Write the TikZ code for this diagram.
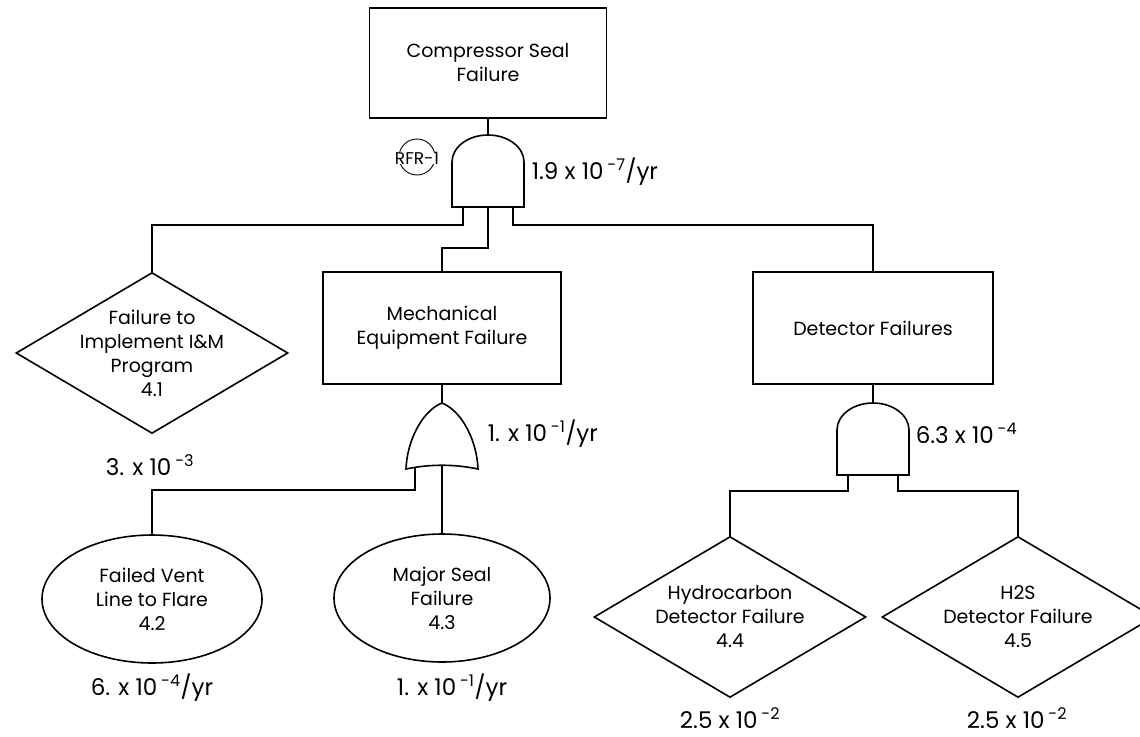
\documentclass[tikz,border=0pt]{standalone}
\usepackage{fontspec}
\setmainfont{Poppins}
\usetikzlibrary{shapes.geometric}

\newcommand{\expo}[1]{\textsuperscript{#1}}

\tikzset{
  every node/.style={font=\fontsize{19}{24}\selectfont},
  box/.style={draw, rectangle, minimum width=238pt, minimum height=112pt, align=center},
  event/.style={draw, diamond, aspect=1.7, inner xsep=-30pt, inner ysep=-30pt, minimum width=272pt, minimum height=161pt, align=center},
  basic/.style={draw, ellipse, inner sep=0pt, minimum width=216pt, minimum height=128pt, align=center},
  prob/.style={font=\fontsize{23}{26}\selectfont, inner sep=0pt},
  andgate/.pic={
    \draw (-36,72) -- (-36,27) arc[start angle=180, end angle=0, x radius=36pt, y radius=27pt] -- (36,72) -- cycle;
    \coordinate (-top) at (0,0);
    \coordinate (-l) at (-25,72);
    \coordinate (-m) at (0,72);
    \coordinate (-r) at (25,72);
  },
  orgate/.pic={
    \draw (0,0) .. controls (-20,8) and (-35,38) .. (-36,66) .. controls (-12,61) and (12,61) .. (36,66) .. controls (35,38) and (20,8) .. (0,0) -- cycle;
    \coordinate (-top) at (0,0);
    \coordinate (-l) at (-27,64);
    \coordinate (-m) at (0,62);
  }
}

\begin{document}
\begin{tikzpicture}[x=1pt, y=-1pt, line width=1.6pt]
  \useasboundingbox (0,0) rectangle (1140,736);

  % top event
  \node[box, minimum width=237pt, minimum height=110pt] (top) at (488,63) {Compressor Seal\\Failure};
  \pic (g1) at (488,135) {andgate};
  \draw[line width=0.9pt] (417,157) circle (18pt);
  \node[fill=white, inner sep=0pt, font=\fontsize{17}{18}\selectfont] (rfr) at (417,158) {RFR-1};
  \node[prob, anchor=west] (p1) at (531,172) {1.9 x 10\,\expo{-7}/yr};

  % second level
  \node[event] (d1) at (152,353) {Failure to\\Implement I\&M\\Program\\4.1};
  \node[box] (mech) at (442,328) {Mechanical\\Equipment Failure};
  \node[box, minimum width=240pt] (det) at (873,328) {Detector Failures};
  \node[prob] (p2) at (150,465) {3. x 10\,\expo{-3}};

  % gates under the boxes
  \pic (g2) at (442,403) {orgate};
  \pic (g3) at (873,403) {andgate};
  \node[prob, anchor=west] (p3) at (487,434) {1. x 10\,\expo{-1}/yr};
  \node[prob, anchor=west] (p4) at (915,433) {6.3 x 10\,\expo{-4}};

  % basic events
  \node[basic, minimum width=220pt] (e1) at (152,599) {Failed Vent\\Line to Flare\\4.2};
  \node[basic] (e2) at (442,598) {Major Seal\\Failure\\4.3};
  \node[event] (d3) at (730,617) {Hydrocarbon\\Detector Failure\\4.4};
  \node[event] (d4) at (1018,617) {H2S\\Detector Failure\\4.5};
  \node[prob] (p5) at (152,688) {6. x 10\,\expo{-4}/yr};
  \node[prob] (p6) at (452,688) {1. x 10\,\expo{-1}/yr};
  \node[prob] (p7) at (730,718) {2.5 x 10\,\expo{-2}};
  \node[prob] (p8) at (1017,718) {2.5 x 10\,\expo{-2}};

  % connectors
  \draw (top.south) -- (g1-top);
  \draw (g1-l) -- ++(0,18) -| (d1.north);
  \draw (g1-m) -- ++(0,41) -| (mech.north);
  \draw (g1-r) -- ++(0,18) -| (det.north);
  \draw (mech.south) -- (g2-top);
  \draw (g2-l) -- ++(0,23) -| (e1.north);
  \draw (g2-m) -- (e2.north);
  \draw (det.south) -- (g3-top);
  \draw (g3-l) -- ++(0,16) -| (d3.north);
  \draw (g3-r) -- ++(0,16) -| (d4.north);
\end{tikzpicture}
\end{document}
